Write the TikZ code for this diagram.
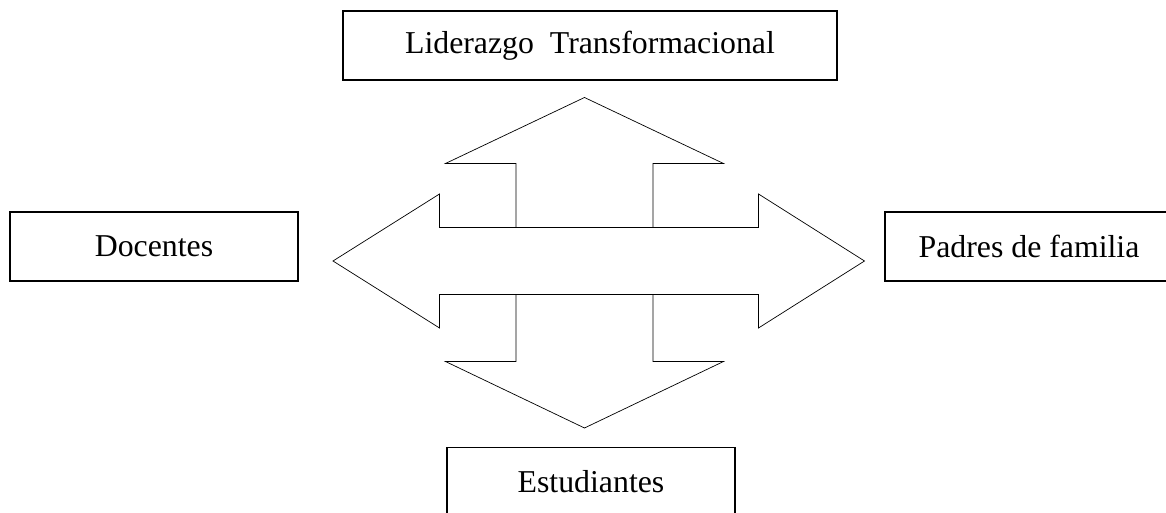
\documentclass[tikz,border=0pt]{standalone}
\usepackage{fontspec}
\setmainfont{Liberation Serif}
\usepackage{tikz}
\pgfdeclarelayer{background}
\pgfdeclarelayer{foreground}
\pgfsetlayers{background,main,foreground}
\tikzset{caja/.style={draw,line width=1pt,minimum height=1.38cm,inner sep=0pt,font=\fontsize{18.1pt}{21pt}\selectfont}}

\begin{document}
\begin{tikzpicture}[line width=1pt]
\useasboundingbox (-11.69cm,-5.04cm) rectangle (11.63cm,5.22cm);
\begin{pgfonlayer}{foreground}
\draw[fill=white] (0-5.03cm,0) -- (0-2.9cm,0+1.34cm) -- (0-2.9cm,0+0.67cm) -- (0+3.48cm,0+0.67cm) -- (0+3.48cm,0+1.34cm) -- (0+5.6cm,0) -- (0+3.48cm,0-1.34cm) -- (0+3.48cm,0-0.67cm) -- (0-2.9cm,0-0.67cm) -- (0-2.9cm,0-1.34cm) -- cycle; %izquierda-derecha
\end{pgfonlayer}
\begin{pgfonlayer}{background}
\draw[fill=white] (0,0+3.27cm) -- (0+2.78cm,0+1.95cm) -- (0+1.37cm,0+1.95cm) -- (0+1.37cm,0-2.01cm) -- (0+2.78cm,0-2.01cm) -- (0,0-3.34cm) -- (0-2.78cm,0-2.01cm) -- (0-1.37cm,0-2.01cm) -- (0-1.37cm,0+1.95cm) -- (0-2.78cm,0+1.95cm) -- cycle; %arriba-abajo
\end{pgfonlayer}
\node[caja,minimum width=9.88cm] (lider) at (0.11cm,4.31cm) {Liderazgo\ \ Transformacional};
\node[caja,minimum width=5.76cm] (docentes) at (-8.61cm,0.29cm) {Docentes};
\node[caja,minimum width=5.76cm] (padres) at (8.89cm,0.29cm) {Padres de familia};
\node[caja,minimum width=5.76cm] (estudiantes) at (0.13cm,-4.42cm) {Estudiantes};
\end{tikzpicture}
\end{document}
